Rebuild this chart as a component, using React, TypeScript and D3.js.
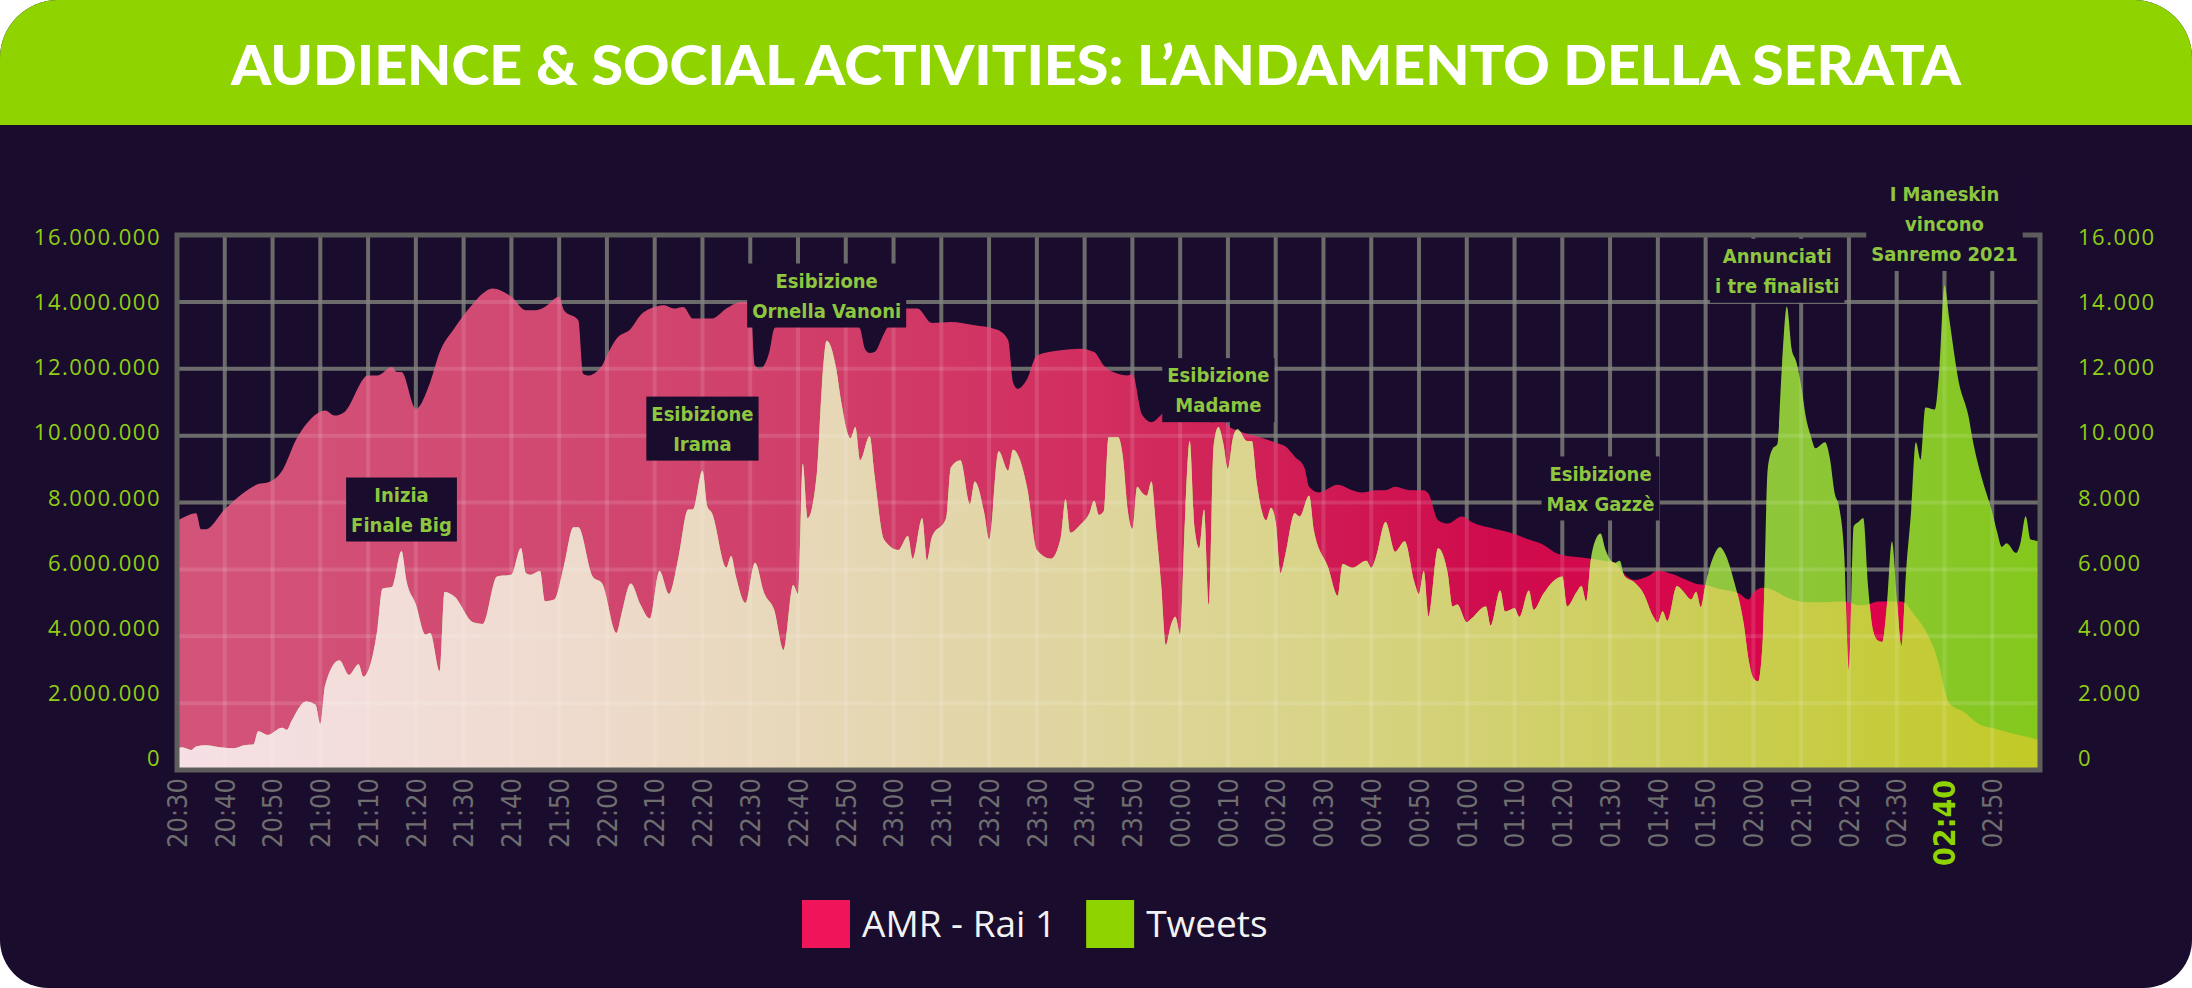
import { useRef, useEffect } from 'react';
import * as d3 from 'd3';

const WIDTH = 2192;
const HEIGHT = 988;
const MARGIN = { top: 235, right: 152, bottom: 218, left: 177 };
const HEADER_H = 125;

const TITLE = 'AUDIENCE & SOCIAL ACTIVITIES: L’ANDAMENTO DELLA SERATA';
const START_TIME = '20:30';
const END_TIME = '03:00';

// AMR Rai 1, millions of viewers
const AMR: [string, number][] = [
  ['20:30', 7.45], ['20:32', 7.6], ['20:34', 7.68], ['20:35', 7.2], ['20:36', 7.2], ['20:40', 7.8],
  ['20:45', 8.4], ['20:47', 8.55], ['20:49', 8.6], ['20:52', 8.95], ['20:55', 9.9], ['20:58', 10.5],
  ['21:01', 10.75], ['21:03', 10.6], ['21:05', 10.7], ['21:10', 11.8], ['21:12', 11.8], ['21:15', 12.05],
  ['21:16', 11.9], ['21:17', 11.9], ['21:20', 10.8], ['21:23', 11.6], ['21:25', 12.5], ['21:28', 13.2],
  ['21:30', 13.6], ['21:32', 13.95], ['21:34', 14.25], ['21:36', 14.4], ['21:40', 14.15], ['21:43', 13.75],
  ['21:45', 13.75], ['21:47', 13.85], ['21:50', 14.15], ['21:51', 13.75], ['21:54', 13.45], ['21:55', 11.85],
  ['21:56', 11.8], ['21:59', 12.1], ['22:00', 12.4], ['22:02', 12.9], ['22:05', 13.2], ['22:07', 13.6],
  ['22:10', 13.85], ['22:12', 13.9], ['22:14', 13.8], ['22:16', 13.85], ['22:18', 13.5], ['22:20', 13.5],
  ['22:22', 13.5], ['22:25', 13.8], ['22:28', 14.0], ['22:30', 14.0], ['22:31', 12.1], ['22:32', 12.0],
  ['22:34', 12.5], ['22:35', 13.2], ['22:37', 13.4], ['22:41', 13.5], ['22:45', 13.6], ['22:50', 13.6],
  ['22:53', 13.2], ['22:54', 12.6], ['22:55', 12.47], ['22:56', 12.5], ['22:58', 13.05], ['23:02', 13.8],
  ['23:05', 13.8], ['23:08', 13.37], ['23:12', 13.4], ['23:17', 13.3], ['23:21', 13.2], ['23:22', 13.15],
  ['23:24', 12.85], ['23:25', 11.6], ['23:26', 11.4], ['23:28', 11.7], ['23:30', 12.4], ['23:35', 12.55],
  ['23:39', 12.6], ['23:42', 12.5], ['23:44', 12.1], ['23:47', 11.85], ['23:49', 11.8], ['23:50', 11.84],
  ['23:52', 10.63], ['23:54', 10.4], ['23:57', 10.7], ['23:58', 10.5], ['00:03', 10.47], ['00:07', 10.4],
  ['00:09', 10.47], ['00:10', 10.3], ['00:13', 10.1], ['00:16', 9.98], ['00:20', 9.79], ['00:22', 9.68],
  ['00:24', 9.37], ['00:26', 9.05], ['00:27', 8.47], ['00:29', 8.3], ['00:33', 8.53], ['00:36', 8.37],
  ['00:38', 8.3], ['00:41', 8.37], ['00:43', 8.37], ['00:45', 8.47], ['00:48', 8.37], ['00:51', 8.37],
  ['00:52', 8.26], ['00:54', 7.47], ['00:56', 7.37], ['00:59', 7.58], ['01:01', 7.42], ['01:06', 7.21],
  ['01:09', 7.1], ['01:13', 6.89], ['01:16', 6.74], ['01:19', 6.47], ['01:23', 6.37], ['01:26', 6.32],
  ['01:29', 6.25], ['01:31', 6.2], ['01:33', 5.86], ['01:35', 5.68], ['01:38', 5.8], ['01:40', 5.97],
  ['01:43', 5.86], ['01:46', 5.68], ['01:48', 5.57], ['01:50', 5.53], ['01:53', 5.41], ['01:57', 5.28],
  ['01:59', 5.1], ['02:00', 5.3], ['02:02', 5.45], ['02:04', 5.39], ['02:07', 5.16], ['02:11', 5.02],
  ['02:15', 5.02], ['02:19', 5.04], ['02:22', 4.93], ['02:24', 4.95], ['02:26', 5.04], ['02:31', 5.04],
  ['02:34', 4.58], ['02:36', 4.17], ['02:39', 3.07], ['02:40', 2.4], ['02:41', 2.0], ['02:44', 1.74],
  ['02:47', 1.39], ['02:51', 1.22], ['02:54', 1.1], ['02:57', 1.0], ['02:59', 0.93], ['03:00', 0.9],
];

// Tweets per minute, thousands
const TWEETS: [string, number][] = [
  ['20:30', 0.63], ['20:31', 0.68], ['20:33', 0.6], ['20:34', 0.7], ['20:36', 0.74], ['20:39', 0.68],
  ['20:42', 0.65], ['20:44', 0.74], ['20:46', 0.76], ['20:47', 1.16], ['20:49', 1.05], ['20:52', 1.26],
  ['20:53', 1.2], ['20:54', 1.47], ['20:57', 2.05], ['20:59', 1.95], ['21:00', 1.37], ['21:01', 2.53],
  ['21:04', 3.28], ['21:06', 2.84], ['21:08', 3.16], ['21:09', 2.79], ['21:12', 4.26], ['21:13', 5.42],
  ['21:15', 5.47], ['21:17', 6.55], ['21:18', 5.68], ['21:20', 4.95], ['21:22', 4.05], ['21:23', 4.1],
  ['21:25', 2.95], ['21:26', 5.32], ['21:28', 5.2], ['21:32', 4.42], ['21:34', 4.37], ['21:37', 5.79],
  ['21:40', 5.84], ['21:42', 6.63], ['21:43', 5.9], ['21:44', 5.84], ['21:46', 5.95], ['21:47', 5.05],
  ['21:49', 5.1], ['21:51', 6.1], ['21:53', 7.26], ['21:54', 7.26], ['21:57', 5.79], ['21:59', 5.58],
  ['22:02', 4.1], ['22:03', 4.63], ['22:05', 5.58], ['22:07', 4.95], ['22:09', 4.53], ['22:11', 5.95],
  ['22:13', 5.26], ['22:15', 6.37], ['22:17', 7.79], ['22:18', 7.79], ['22:20', 8.95], ['22:21', 7.89],
  ['22:22', 7.68], ['22:25', 6.05], ['22:26', 6.4], ['22:27', 5.79], ['22:29', 5.0], ['22:31', 6.2],
  ['22:33', 5.26], ['22:35', 4.79], ['22:37', 3.58], ['22:39', 5.53], ['22:40', 5.26], ['22:41', 9.16],
  ['22:42', 7.53], ['22:44', 8.95], ['22:45', 11.47], ['22:46', 12.84], ['22:48', 12.0], ['22:49', 11.05],
  ['22:51', 9.92], ['22:52', 10.26], ['22:53', 9.26], ['22:55', 9.98], ['22:56', 8.84], ['22:58', 6.89],
  ['23:01', 6.58], ['23:03', 7.0], ['23:04', 6.32], ['23:06', 7.53], ['23:07', 6.26], ['23:08', 6.95],
  ['23:11', 7.53], ['23:12', 9.05], ['23:14', 9.26], ['23:16', 7.95], ['23:17', 8.63], ['23:19', 7.68],
  ['23:20', 6.89], ['23:22', 9.53], ['23:24', 8.95], ['23:25', 9.58], ['23:28', 8.42], ['23:30', 6.58],
  ['23:33', 6.32], ['23:35', 6.95], ['23:36', 8.1], ['23:37', 7.1], ['23:39', 7.32], ['23:41', 7.68],
  ['23:42', 8.05], ['23:43', 7.63], ['23:44', 7.74], ['23:45', 9.95], ['23:47', 9.95], ['23:48', 9.37],
  ['23:49', 7.8], ['23:50', 7.21], ['23:51', 8.47], ['23:52', 8.3], ['23:53', 8.2], ['23:54', 8.63],
  ['23:55', 7.16], ['23:56', 5.58], ['23:57', 3.74], ['23:58', 4.3], ['23:59', 4.58], ['00:00', 4.05],
  ['00:01', 7.47], ['00:02', 9.84], ['00:03', 7.26], ['00:04', 6.63], ['00:05', 7.79], ['00:06', 4.95],
  ['00:07', 9.68], ['00:08', 10.26], ['00:09', 9.79], ['00:10', 9.0], ['00:11', 9.9], ['00:12', 10.2],
  ['00:14', 9.84], ['00:15', 9.84], ['00:16', 8.63], ['00:18', 7.47], ['00:19', 7.84], ['00:20', 7.42],
  ['00:21', 5.89], ['00:22', 6.42], ['00:24', 7.68], ['00:25', 7.58], ['00:27', 8.2], ['00:28', 7.16],
  ['00:31', 6.05], ['00:33', 5.21], ['00:34', 6.16], ['00:36', 6.05], ['00:39', 6.26], ['00:40', 6.05],
  ['00:41', 6.37], ['00:43', 7.42], ['00:45', 6.53], ['00:47', 6.84], ['00:49', 5.63], ['00:50', 5.26],
  ['00:51', 5.95], ['00:52', 4.58], ['00:54', 6.63], ['00:56', 5.89], ['00:57', 4.89], ['00:58', 4.95],
  ['01:00', 4.42], ['01:01', 4.53], ['01:04', 4.89], ['01:05', 4.32], ['01:07', 5.37], ['01:08', 4.74],
  ['01:10', 4.84], ['01:11', 4.58], ['01:13', 5.37], ['01:14', 4.79], ['01:16', 5.26], ['01:18', 5.63],
  ['01:20', 5.79], ['01:21', 4.89], ['01:23', 5.32], ['01:24', 5.5], ['01:25', 5.04], ['01:26', 6.32],
  ['01:27', 6.9], ['01:28', 7.07], ['01:29', 6.6], ['01:30', 6.3], ['01:31', 6.2], ['01:32', 6.26],
  ['01:33', 5.8], ['01:35', 5.62], ['01:37', 5.28], ['01:39', 4.6], ['01:40', 4.41], ['01:41', 4.75],
  ['01:42', 4.46], ['01:44', 5.5], ['01:45', 5.39], ['01:47', 5.1], ['01:48', 5.33], ['01:49', 4.87],
  ['01:50', 5.57], ['01:52', 6.5], ['01:53', 6.67], ['01:54', 6.49], ['01:56', 5.62], ['01:58', 4.35],
  ['01:59', 3.3], ['02:00', 2.75], ['02:01', 2.65], ['02:02', 4.0], ['02:03', 9.0], ['02:04', 9.6],
  ['02:05', 9.74], ['02:06', 12.12], ['02:07', 13.86], ['02:08', 12.6], ['02:09', 12.2], ['02:10', 11.5],
  ['02:11', 10.55], ['02:12', 10.0], ['02:13', 9.62], ['02:15', 9.8], ['02:16', 9.33], ['02:17', 8.29],
  ['02:18', 7.83], ['02:19', 6.5], ['02:20', 3.0], ['02:21', 7.3], ['02:22', 7.42], ['02:23', 7.54],
  ['02:24', 5.5], ['02:25', 4.2], ['02:26', 3.88], ['02:27', 3.83], ['02:28', 5.0], ['02:29', 6.84],
  ['02:30', 5.16], ['02:31', 3.71], ['02:32', 6.0], ['02:33', 7.71], ['02:34', 9.8], ['02:35', 9.28],
  ['02:36', 10.84], ['02:38', 10.78], ['02:39', 12.12], ['02:40', 14.49], ['02:41', 13.5], ['02:43', 11.6],
  ['02:45', 10.6], ['02:46', 9.8], ['02:48', 8.64], ['02:50', 7.71], ['02:51', 7.13], ['02:52', 6.67],
  ['02:53', 6.78], ['02:55', 6.49], ['02:56', 6.84], ['02:57', 7.59], ['02:58', 6.9], ['03:00', 6.84],
];

const X_TICKS = [
  '20:30', '20:40', '20:50', '21:00', '21:10', '21:20', '21:30', '21:40', '21:50', '22:00',
  '22:10', '22:20', '22:30', '22:40', '22:50', '23:00', '23:10', '23:20', '23:30', '23:40',
  '23:50', '00:00', '00:10', '00:20', '00:30', '00:40', '00:50', '01:00', '01:10', '01:20',
  '01:30', '01:40', '01:50', '02:00', '02:10', '02:20', '02:30', '02:40', '02:50',
];
const HIGHLIGHT_TICK = '02:40';
const Y_TICKS = [0, 2, 4, 6, 8, 10, 12, 14, 16];

const ANNOTATIONS = [
  { time: '21:17', value: 7.79, lines: ['Inizia', 'Finale Big'] },
  { time: '22:20', value: 10.21, lines: ['Esibizione', 'Irama'] },
  { time: '22:46', value: 14.19, lines: ['Esibizione', 'Ornella Vanoni'] },
  { time: '00:08', value: 11.36, lines: ['Esibizione', 'Madame'] },
  { time: '01:28', value: 8.42, lines: ['Esibizione', 'Max Gazzè'] },
  { time: '02:05', value: 14.93, lines: ['Annunciati', 'i tre finalisti'] },
  { time: '02:40', value: 16.33, lines: ['I Maneskin', 'vincono', 'Sanremo 2021'] },
];

const LEGEND = [
  { label: 'AMR - Rai 1', color: '#f0145a' },
  { label: 'Tweets', color: '#8fd400' },
];

const BG = '#1a0c2d';
const GREEN = '#8fd400';
const AXIS_GREEN = '#8fcf14';
const NOTE_GREEN = '#8dc63f';

function toMinutes(t: string) {
  const [h, m] = t.split(':').map(Number);
  const [h0, m0] = START_TIME.split(':').map(Number);
  return (h < 12 ? h + 24 : h) * 60 + m - (h0 * 60 + m0);
}

const itLocale = d3.formatLocale({ decimal: ',', thousands: '.', grouping: [3], currency: ['€', ''] });
const fmt = itLocale.format(',.0f');

function cardPath(w: number, h: number, rt: number, rb: number) {
  return `M0,${rt} A${rt},${rt} 0 0 1 ${rt},0 L${w - rt},0 A${rt},${rt} 0 0 1 ${w},${rt}
    L${w},${h - rb} A${rb},${rb} 0 0 1 ${w - rb},${h} L${rb},${h} A${rb},${rb} 0 0 1 0,${h - rb} Z`;
}

function headerPath(w: number, h: number, rt: number) {
  return `M0,${h} L0,${rt} A${rt},${rt} 0 0 1 ${rt},0 L${w - rt},0 A${rt},${rt} 0 0 1 ${w},${rt} L${w},${h} Z`;
}

export default function App() {
  const svgRef = useRef<SVGSVGElement>(null);

  useEffect(() => {
    if (!svgRef.current) return;
    const svg = d3.select(svgRef.current);
    svg.selectAll('*').remove();

    const x0 = MARGIN.left;
    const x1 = WIDTH - MARGIN.right;
    const y0 = MARGIN.top;
    const y1 = HEIGHT - MARGIN.bottom;

    const x = d3.scaleLinear().domain([0, toMinutes(END_TIME)]).range([x0, x1]);
    const y = d3.scaleLinear().domain([0, 16]).range([y1, y0]);
    // tick labels sit slightly off the grid lines in the original
    const yText = d3.scaleLinear().domain([0, 16]).range([757, 236]);

    const defs = svg.append('defs');

    const gradient = (id: string, stops: [number, string][]) => {
      const g = defs.append('linearGradient').attr('id', id)
        .attr('gradientUnits', 'userSpaceOnUse')
        .attr('x1', x0).attr('x2', x1).attr('y1', 0).attr('y2', 0);
      stops.forEach(([o, c]) => g.append('stop').attr('offset', o).attr('stop-color', c));
    };
    gradient('amrGrad', [[0, '#d3547a'], [0.3, '#d0426c'], [0.5, '#d22d5e'], [0.7, '#cf0c4d'], [1, '#e3004a']]);
    gradient('tweetGrad', [[0, '#b8d880'], [0.7, '#9ccc50'], [0.85, '#8fc63c'], [1, '#84c81c']]);
    gradient('overlapGrad', [[0, '#f6e0e6'], [0.2, '#efdbcf'], [0.4, '#e4d6ae'], [0.6, '#d9d48a'], [0.8, '#ccce5a'], [1, '#c1ca26']]);

    defs.append('clipPath').attr('id', 'plotClip')
      .append('rect').attr('x', x0).attr('y', y0).attr('width', x1 - x0).attr('height', y1 - y0);

    const amrData = AMR.map(([t, v]) => ({ m: toMinutes(t), v }));
    const tweetData = TWEETS.map(([t, v]) => ({ m: toMinutes(t), v }));

    const area = d3.area<{ m: number; v: number }>()
      .x((d) => x(d.m))
      .y0(y1)
      .y1((d) => y(d.v))
      .curve(d3.curveMonotoneX);

    defs.append('clipPath').attr('id', 'amrClip')
      .append('path').attr('d', area(amrData) ?? '');

    // card
    svg.append('rect').attr('width', WIDTH).attr('height', HEIGHT).attr('fill', '#ffffff');
    svg.append('path').attr('d', cardPath(WIDTH, HEIGHT, 58, 48)).attr('fill', BG);
    svg.append('path').attr('d', headerPath(WIDTH, HEADER_H, 58)).attr('fill', GREEN);

    svg.append('text')
      .attr('x', WIDTH / 2)
      .attr('y', 85)
      .attr('text-anchor', 'middle')
      .attr('font-family', 'Lato, "Open Sans", sans-serif')
      .attr('font-weight', 900)
      .attr('font-size', 56)
      .attr('fill', '#ffffff')
      .attr('textLength', 1730)
      .attr('lengthAdjust', 'spacingAndGlyphs')
      .text(TITLE);

    // grid
    const drawGrid = (g: d3.Selection<SVGGElement, unknown, null, undefined>, stroke: string, opacity: number) => {
      g.selectAll('line.v')
        .data(X_TICKS.slice(1))
        .join('line')
        .attr('class', 'v')
        .attr('x1', (d) => x(toMinutes(d))).attr('x2', (d) => x(toMinutes(d)))
        .attr('y1', y0).attr('y2', y1)
        .attr('stroke', stroke).attr('stroke-opacity', opacity).attr('stroke-width', 4);
      g.selectAll('line.h')
        .data(Y_TICKS.slice(1, -1))
        .join('line')
        .attr('class', 'h')
        .attr('x1', x0).attr('x2', x1)
        .attr('y1', (d) => y(d)).attr('y2', (d) => y(d))
        .attr('stroke', stroke).attr('stroke-opacity', opacity).attr('stroke-width', 4);
    };
    drawGrid(svg.append('g'), '#575757', 1);

    const plot = svg.append('g').attr('clip-path', 'url(#plotClip)');
    plot.append('path').datum(amrData).attr('d', area).attr('fill', 'url(#amrGrad)');
    plot.append('path').datum(tweetData).attr('d', area).attr('fill', 'url(#tweetGrad)');
    plot.append('g').attr('clip-path', 'url(#amrClip)')
      .append('path').datum(tweetData).attr('d', area).attr('fill', 'url(#overlapGrad)');

    drawGrid(plot.append('g'), '#ffffff', 0.12);

    // frame
    svg.append('rect')
      .attr('x', x0).attr('y', y0).attr('width', x1 - x0).attr('height', y1 - y0)
      .attr('fill', 'none').attr('stroke', '#5d5d5d').attr('stroke-width', 5);

    // annotations
    ANNOTATIONS.forEach((a) => {
      const g = svg.append('g');
      const cx = x(toMinutes(a.time));
      const cy = y(a.value);
      const lh = 30;
      const text = g.append('text')
        .attr('text-anchor', 'middle')
        .attr('font-family', '"DejaVu Sans Condensed", "DejaVu Sans", sans-serif')
        .attr('font-stretch', 'condensed')
        .attr('font-weight', 'bold')
        .attr('font-size', 20)
        .attr('fill', NOTE_GREEN);
      a.lines.forEach((line, i) => {
        text.append('tspan')
          .attr('x', cx)
          .attr('y', cy + (i - (a.lines.length - 1) / 2) * lh)
          .attr('dy', '0.36em')
          .text(line);
      });
      const bb = (text.node() as SVGTextElement).getBBox();
      g.insert('rect', 'text')
        .attr('x', bb.x - 5).attr('y', cy - (a.lines.length - 1) * lh / 2 - 17)
        .attr('width', bb.width + 10)
        .attr('height', (a.lines.length - 1) * lh + 34)
        .attr('fill', BG);
    });

    // y axis labels
    const yLabelStyle = (sel: d3.Selection<SVGTextElement, number, SVGGElement, unknown>) =>
      sel.attr('font-family', '"Open Sans", sans-serif')
        .attr('font-size', 22)
        .attr('letter-spacing', 1.5)
        .attr('fill', AXIS_GREEN)
        .attr('dominant-baseline', 'central');

    svg.append('g').selectAll('text')
      .data(Y_TICKS)
      .join('text')
      .attr('x', 161)
      .attr('y', (d) => yText(d))
      .attr('text-anchor', 'end')
      .call(yLabelStyle)
      .text((d) => fmt(d * 1e6));

    svg.append('g').selectAll('text')
      .data(Y_TICKS)
      .join('text')
      .attr('x', 2078)
      .attr('y', (d) => yText(d))
      .attr('text-anchor', 'start')
      .call(yLabelStyle)
      .text((d) => fmt(d * 1e3));

    // x axis labels
    svg.append('g').selectAll('text')
      .data(X_TICKS)
      .join('text')
      .attr('transform', (d) => `translate(${x(toMinutes(d))},${d === HIGHLIGHT_TICK ? 780 : 778}) rotate(-90)`)
      .attr('text-anchor', 'end')
      .attr('dy', '0.36em')
      .attr('font-family', '"DejaVu Sans Condensed", "DejaVu Sans", sans-serif')
      .attr('font-stretch', 'condensed')
      .attr('font-weight', (d) => (d === HIGHLIGHT_TICK ? 'bold' : 'normal'))
      .attr('font-size', (d) => (d === HIGHLIGHT_TICK ? 30 : 27))
      .attr('fill', (d) => (d === HIGHLIGHT_TICK ? GREEN : '#6e6e6e'))
      .text((d) => d);

    // legend
    const legend = svg.append('g');
    let lx = 802;
    LEGEND.forEach((item) => {
      legend.append('rect')
        .attr('x', lx).attr('y', 900).attr('width', 48).attr('height', 48)
        .attr('fill', item.color);
      const t = legend.append('text')
        .attr('x', lx + 60).attr('y', 937)
        .attr('font-family', '"Open Sans", sans-serif')
        .attr('font-size', 37)
        .attr('fill', '#f2f2f2')
        .text(item.label);
      lx += 60 + (t.node() as SVGTextElement).getComputedTextLength() + 30;
    });
  }, []);

  return (
    <div style={{ position: 'fixed', left: 0, top: 0, width: WIDTH, height: HEIGHT }}>
      <svg ref={svgRef} width={WIDTH} height={HEIGHT} style={{ display: 'block' }} />
    </div>
  );
}
